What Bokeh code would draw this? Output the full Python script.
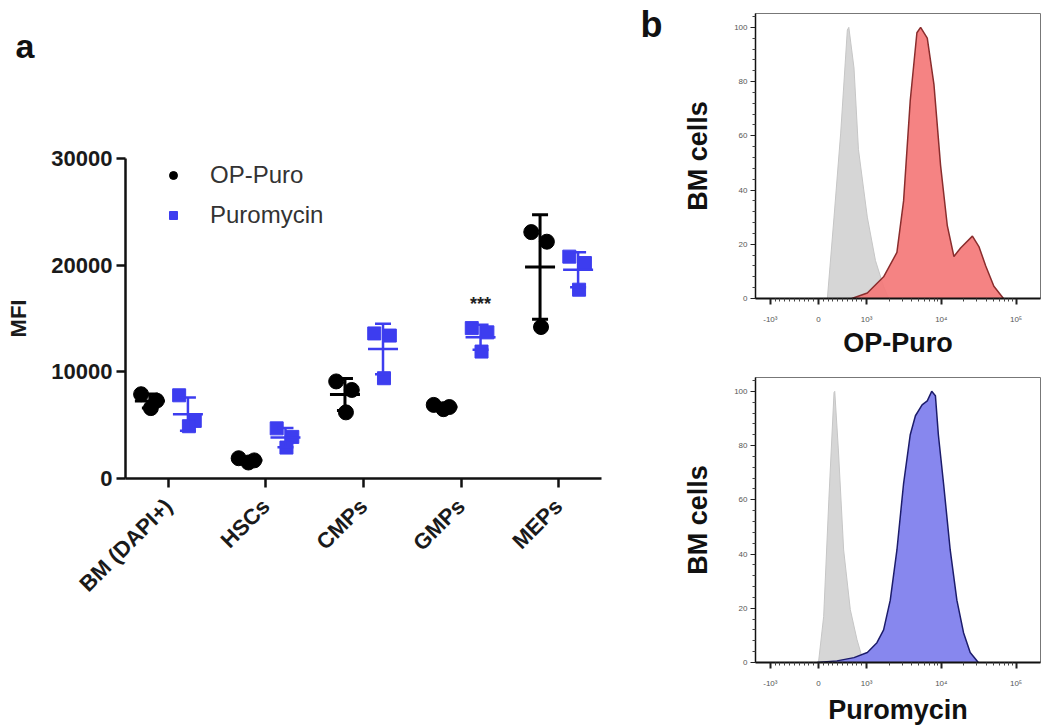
import math
from bokeh.plotting import figure
from bokeh.layouts import row, column
from bokeh.models import (Range1d, FixedTicker, Legend, LegendItem,
                          CustomJSTickFormatter)
from bokeh.embed import file_html
from bokeh.resources import INLINE
from bokeh.core.properties import value

# ---------------- data: panel a ----------------
categories = ["BM (DAPI+)", "HSCs", "CMPs", "GMPs", "MEPs"]
op_puro = [[7900, 7300, 6600], [1900, 1700, 1500], [9100, 8300, 6200],
           [6900, 6700, 6500], [23100, 22200, 14200]]
puromycin = [[7800, 5400, 4900], [4700, 3900, 2900], [13600, 13400, 9400],
             [14100, 13700, 11900], [20800, 20200, 17700]]
significance = ["", "", "", "***", ""]
y_ticks = [0, 10000, 20000, 30000]
panel_letters = ["a", "b"]

# ---------------- data: panel b (x in biexponential display units) ----------------
op_ctrl_x = [0.12, 0.21, 0.30, 0.39, 0.41, 0.48, 0.54, 0.66, 0.77, 0.88, 0.95]
op_ctrl_y = [0, 30, 61, 99, 100, 85, 55, 30, 14, 4.5, 0]
op_x = [0.45, 0.66, 0.88, 1.06, 1.15, 1.24, 1.33, 1.38, 1.47, 1.56, 1.65, 1.74,
        1.83, 1.92, 2.08, 2.17, 2.26, 2.37, 2.50]
op_y = [0, 2, 8, 17, 36, 73, 98, 100, 96, 79, 49, 27, 15.5, 18.6, 23, 19, 12, 4.5, 0]
puro_ctrl_x = [0.0, 0.07, 0.14, 0.21, 0.22, 0.27, 0.34, 0.43, 0.52, 0.61]
puro_ctrl_y = [0, 17, 60, 99.6, 100, 78, 41.5, 19.5, 8.5, 0]
puro_x = [-0.02, 0.25, 0.48, 0.66, 0.79, 0.88, 0.97, 1.06, 1.15, 1.24, 1.31, 1.40,
          1.47, 1.53, 1.58, 1.62, 1.69, 1.78, 1.87, 1.96, 2.05, 2.16]
puro_y = [0, 0.6, 1.8, 3.7, 7.3, 12, 23, 41.5, 66, 84, 91, 95, 96.5, 100, 98.4, 84,
          66, 41.5, 23, 11, 3.7, 0]
hist_y_ticks = [0, 20, 40, 60, 80, 100]
hist_x_tick_values = [-1000, 0, 1000, 10000, 100000]
hist_x_tick_labels = ["-10³", "0", "10³", "10⁴", "10⁵"]

FONT = "Liberation Sans"
BLUE = "#3d3def"


def biex(v):
    if abs(v) <= 1000:
        return 0.65 * v / 1000.0
    s = 1 if v > 0 else -1
    return s * (0.65 + 1.01 * (math.log10(abs(v)) - 3))


def mean_sd(vals):
    m = sum(vals) / len(vals)
    sd = math.sqrt(sum((v - m) ** 2 for v in vals) / (len(vals) - 1))
    return m, sd


def letter_fig(letter, w, h, tx, size):
    # the letter is vertically centred in its own small canvas
    f = figure(width=w, height=h, x_range=Range1d(0, w), y_range=Range1d(0, 1),
               output_backend="svg", toolbar_location=None, title=None,
               x_axis_location=None, y_axis_location=None, min_border=0)
    f.outline_line_color = None
    f.grid.grid_line_color = None
    f.text([tx], [0.5], text=[letter], text_font=value(FONT), text_font_size=size,
           text_font_style="bold", text_baseline="middle", text_color="#111111")
    return f


# ---------------- panel a ----------------
pa = figure(width=608, height=588, x_range=Range1d(-0.44, 4.44), y_range=Range1d(0, 30000),
            output_backend="svg", toolbar_location=None,
            min_border_left=125, min_border_right=7, min_border_top=68, min_border_bottom=200)
pa.outline_line_color = None
pa.grid.grid_line_color = None

jit = [-0.09, 0.07, 0.01]
dodge_op, dodge_pu = -0.19, 0.20

ox, oy, px_, py_ = [], [], [], []
for i, (a, b) in enumerate(zip(op_puro, puromycin)):
    for j, v in enumerate(a):
        ox.append(i + dodge_op + jit[j]); oy.append(v)
    for j, v in enumerate(b):
        px_.append(i + dodge_pu + jit[j]); py_.append(v)

r_op = pa.scatter(ox, oy, marker="circle", size=15, color="black")
r_pu = pa.scatter(px_, py_, marker="square", size=13, color=BLUE)

for data, dodge, col, lw in [(op_puro, dodge_op, "black", 3), (puromycin, dodge_pu, BLUE, 2.5)]:
    xs, ms, lo, hi = [], [], [], []
    for i, vals in enumerate(data):
        m, sd = mean_sd(vals)
        xs.append(i + dodge); ms.append(m); lo.append(m - sd); hi.append(m + sd)
    pa.segment(xs, lo, xs, hi, line_color=col, line_width=lw)
    pa.scatter(xs, ms, marker="dash", size=30, line_color=col, line_width=lw)
    pa.scatter(xs + xs, lo + hi, marker="dash", size=16, line_color=col, line_width=lw)

sx, sy, st = [], [], []
for i, s in enumerate(significance):
    if s:
        sx.append(i + dodge_pu); sy.append(max(puromycin[i]) + 2300); st.append(s)
pa.text(sx, sy, text=st, text_align="center", text_baseline="middle",
        text_font=value(FONT), text_font_size="18px", text_font_style="bold", text_color="#222222")

pa.yaxis.ticker = FixedTicker(ticks=y_ticks)
pa.xaxis.ticker = FixedTicker(ticks=list(range(len(categories))))
pa.xaxis.major_label_overrides = {i: c for i, c in enumerate(categories)}
pa.xaxis.major_label_orientation = math.pi / 4
for ax in (pa.xaxis, pa.yaxis):
    ax.axis_line_width = 2.5
    ax.axis_line_color = "#111111"
    ax.major_tick_line_width = 2.5
    ax.major_tick_line_color = "#111111"
    ax.major_tick_out = 9
    ax.major_tick_in = 0
    ax.minor_tick_line_color = None
    ax.major_label_text_font = FONT
    ax.major_label_text_font_style = "bold"
    ax.major_label_text_font_size = "22px"
    ax.major_label_text_color = "#1a1a1a"
pa.yaxis.major_label_standoff = 4
pa.xaxis.major_label_standoff = 15
pa.yaxis.axis_label = "MFI"
pa.yaxis.axis_label_text_font = FONT
pa.yaxis.axis_label_text_font_style = "bold"
pa.yaxis.axis_label_text_font_size = "22px"
pa.yaxis.axis_label_text_color = "#1a1a1a"
pa.yaxis.axis_label_standoff = 17

legend = Legend(items=[LegendItem(label="OP-Puro", renderers=[r_op]),
                       LegendItem(label="Puromycin", renderers=[r_pu])],
                location=(38, 249), border_line_color=None, background_fill_alpha=0,
                label_text_font=FONT, label_text_font_size="24px", label_text_color="#333333",
                glyph_width=20, glyph_height=20, label_standoff=27, spacing=12,
                padding=0, margin=0)
pa.add_layout(legend)


# ---------------- panel b ----------------
def hist_fig(ctrl_x, ctrl_y, x, y, fill, edge, xlabel, width, left, top, bottom, height,
             fill_alpha, xlabel_standoff):
    p = figure(width=width, height=height, x_range=Range1d(-0.851, 3.0), y_range=Range1d(0, 105.1),
               output_backend="svg", toolbar_location=None,
               min_border_left=left, min_border_right=1, min_border_top=top, min_border_bottom=bottom)
    p.grid.grid_line_color = None
    p.outline_line_color = "#777777"
    p.outline_line_width = 1
    zeros_c = [0] * len(ctrl_x)
    p.varea(ctrl_x, zeros_c, ctrl_y, fill_color="#d6d6d6")
    p.line(ctrl_x, ctrl_y, line_color="#c6c6c6", line_width=1)
    p.varea(x, [0] * len(x), y, fill_color=fill, fill_alpha=fill_alpha)
    p.line(x, y, line_color=edge, line_width=1.5)

    p.yaxis.ticker = FixedTicker(ticks=hist_y_ticks,
                                 minor_ticks=[v for v in range(0, 105, 4) if v % 20])
    pos = [biex(v) for v in hist_x_tick_values]
    minor = []
    for k in range(1, 10):
        minor += [biex(k * 100), biex(-k * 100)]
    for k in range(2, 10):
        minor += [biex(k * 1000), biex(k * 10000), biex(-k * 1000)]
    p.xaxis.ticker = FixedTicker(ticks=pos, minor_ticks=[m for m in minor if -0.85 < m < 3.0])
    p.xaxis.formatter = CustomJSTickFormatter(args=dict(pos=pos, lab=hist_x_tick_labels), code="""
        for (let i = 0; i < pos.length; i++) { if (Math.abs(tick - pos[i]) < 1e-6) return lab[i]; }
        return "";
    """)
    for ax in (p.xaxis, p.yaxis):
        ax.axis_line_color = "#111111"
        ax.major_tick_line_color = "#222222"
        ax.minor_tick_line_color = "#444444"
        ax.major_tick_in = 0
        ax.minor_tick_in = 0
        ax.major_label_text_font = FONT
        ax.major_label_text_font_size = "8px"
        ax.major_label_text_color = "#555555"
        ax.axis_label_text_font = FONT
        ax.axis_label_text_font_style = "bold"
        ax.axis_label_text_font_size = "27px"
        ax.axis_label_text_color = "#111111"
    p.xaxis.axis_line_width = 2
    p.xaxis.major_tick_line_width = 2
    p.xaxis.major_tick_out = 6
    p.xaxis.minor_tick_out = 3
    p.xaxis.major_label_standoff = 10
    p.xaxis.axis_label = xlabel
    p.xaxis.axis_label_standoff = xlabel_standoff
    p.yaxis.axis_line_width = 1.5
    p.yaxis.major_tick_out = 5
    p.yaxis.minor_tick_out = 3
    p.yaxis.major_label_standoff = 3
    p.yaxis.axis_label = "BM cells"
    p.yaxis.axis_label_standoff = 18
    return p


fig_a = letter_fig(panel_letters[0], 608, 90, 15, "34px")
fig_b = letter_fig(panel_letters[1], 60, 48, 32, "36px")
pb1 = hist_fig(op_ctrl_x, op_ctrl_y, op_x, op_y, "#f47878", "#8a2d2d", "OP-Puro",
               373, 87, 13, 61, 360, 0.92, 1)
pb2 = hist_fig(puro_ctrl_x, puro_ctrl_y, puro_x, puro_y, "#8787ee", "#1c1c6b", "Puromycin",
               373, 87, 17, 64, 367, 1.0, 4)

layout = row(column(row(fig_a), pa), column(fig_b), column(pb1, pb2))
open("out.html", "w").write(file_html(layout, INLINE))
